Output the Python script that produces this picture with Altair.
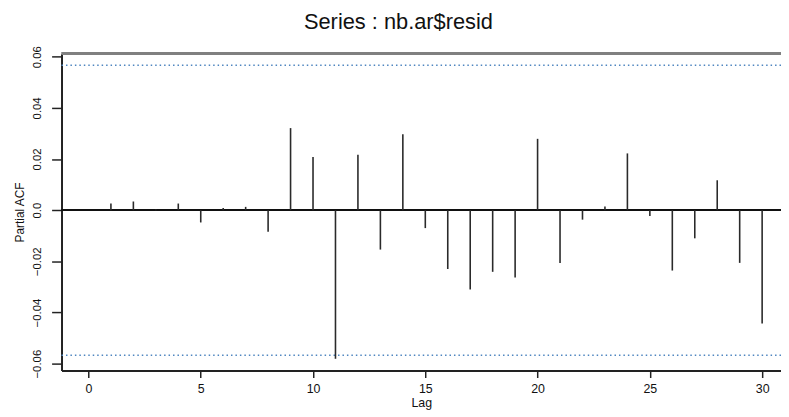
import altair as alt
import pandas as pd

lags = list(range(1, 31))
pacf = [0.0026, 0.0034, 0.0003, 0.0026, -0.0048, 0.0009, 0.0013, -0.0084,
        0.0321, 0.0208, -0.0581, 0.0217, -0.0154, 0.0297, -0.0070, -0.0230,
        -0.0310, -0.0241, -0.0263, 0.0279, -0.0206, -0.0037, 0.0014, 0.0222,
        -0.0023, -0.0236, -0.0110, 0.0117, -0.0206, -0.0443]
ci = [0.0567, -0.0567]
x_ticks = [0, 5, 10, 15, 20, 25, 30]
y_ticks = [-0.06, -0.04, -0.02, 0.0, 0.02, 0.04, 0.06]

df = pd.DataFrame({"lag": lags, "pacf": pacf, "zero": [0.0] * len(lags)})
ci_df = pd.DataFrame({"ci": ci})

W, H = 726, 320
FONT = "Liberation Sans"

xscale = alt.Scale(domain=[-1.20, 30.84], nice=False, zero=False)
yscale = alt.Scale(domain=[-0.0627, 0.0613], nice=False, zero=False)

spikes = alt.Chart(df).mark_rule(color="#2a2a2a", strokeWidth=1.6).encode(
    x=alt.X("lag:Q", scale=xscale, title="Lag",
            axis=alt.Axis(values=x_ticks, grid=False, tickSize=7, labelPadding=5,
                          labelFontSize=12.5, titleFontSize=12.5, titlePadding=2,
                          domainColor="#222", domainWidth=2, tickColor="#222",
                          tickWidth=1.5, labelColor="#111", titleColor="#111",
                          labelFont=FONT, titleFont=FONT, titleFontWeight="normal")),
    y=alt.Y("pacf:Q", scale=yscale, title="Partial ACF",
            axis=alt.Axis(values=y_ticks, grid=False, tickSize=10, labelPadding=9,
                          labelAngle=270, labelAlign="center", labelBaseline="bottom",
                          labelExpr="datum.value == 0 ? '0.0' : format(datum.value, '.2f')",
                          labelFontSize=11.5, titleFontSize=12, titlePadding=5,
                          domainColor="#222", domainWidth=2, tickColor="#222",
                          tickWidth=1.5, labelColor="#111", titleColor="#111",
                          labelFont=FONT, titleFont=FONT, titleFontWeight="normal")),
    y2="zero:Q",
)

zero_line = alt.Chart(df).mark_rule(color="#111", strokeWidth=1.6).encode(
    y=alt.datum(0, scale=yscale)
)

bounds = alt.Chart(ci_df).mark_rule(color="#4f86c0", strokeWidth=1.6,
                                    strokeDash=[1.5, 3]).encode(
    y=alt.Y("ci:Q", scale=yscale)
)

top_line = alt.Chart(ci_df).mark_rule(color="#808080", strokeWidth=3).encode(
    x=alt.value(0), x2=alt.value(W), y=alt.value(0)
)

chart = alt.layer(top_line, bounds, zero_line, spikes).properties(
    width=W, height=H,
    title=alt.TitleParams("Series : nb.ar$resid", font=FONT, fontSize=22,
                          fontWeight="normal", color="#111", anchor="middle",
                          dx=-23, offset=12),
    autosize=alt.AutoSizeParams(type="none"),
    padding={"left": 54, "top": 44, "right": 0, "bottom": 40},
).configure_view(stroke=None).configure(background="white")

chart.save("out.html", embed_options={"renderer": "svg", "actions": False})
